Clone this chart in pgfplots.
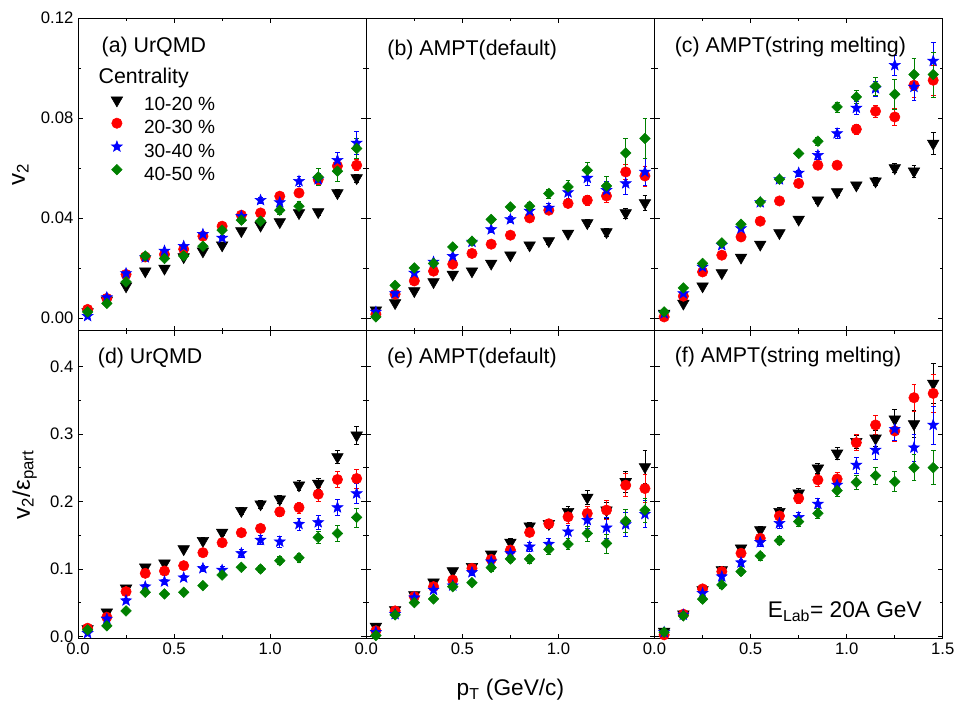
\documentclass[border=0pt]{standalone}
\usepackage{fontspec}
\setmainfont{Liberation Sans}
\usepackage{pgfplots}
\pgfplotsset{compat=1.18}
\usepackage{pgfplotstable}

\definecolor{cgreen}{RGB}{0,128,0}

\pgfdeclareplotmark{fstar}{%
  \pgfpathmoveto{\pgfpointpolar{90}{\pgfplotmarksize}}%
  \pgfpathlineto{\pgfpointpolar{126}{0.42\pgfplotmarksize}}%
  \pgfpathlineto{\pgfpointpolar{162}{\pgfplotmarksize}}%
  \pgfpathlineto{\pgfpointpolar{198}{0.42\pgfplotmarksize}}%
  \pgfpathlineto{\pgfpointpolar{234}{\pgfplotmarksize}}%
  \pgfpathlineto{\pgfpointpolar{270}{0.42\pgfplotmarksize}}%
  \pgfpathlineto{\pgfpointpolar{306}{\pgfplotmarksize}}%
  \pgfpathlineto{\pgfpointpolar{342}{0.42\pgfplotmarksize}}%
  \pgfpathlineto{\pgfpointpolar{18}{\pgfplotmarksize}}%
  \pgfpathlineto{\pgfpointpolar{54}{0.42\pgfplotmarksize}}%
  \pgfpathclose
  \pgfusepathqfillstroke}

% x, black(10-20), red(20-30), blue(30-40), green(40-50) with errors
\pgfplotstableread{
x yk ek yr er yb eb yg eg
0.05 0.0025 0.0003 0.0035 0.0003 0.0008 0.0003 0.0025 0.0003
0.15 0.0072 0.0003 0.0079 0.0003 0.0083 0.0004 0.0059 0.0003
0.25 0.0128 0.0004 0.0175 0.0004 0.0179 0.0005 0.0145 0.0004
0.35 0.0188 0.0004 0.0245 0.0005 0.0243 0.0005 0.0249 0.0005
0.45 0.0199 0.0005 0.0255 0.0005 0.0269 0.0006 0.0239 0.0006
0.55 0.0245 0.0005 0.0276 0.0006 0.0288 0.0007 0.0249 0.0007
0.65 0.0268 0.0006 0.0328 0.0007 0.0336 0.0008 0.0288 0.0008
0.75 0.0292 0.0007 0.0368 0.0008 0.0321 0.0009 0.0352 0.0009
0.85 0.0349 0.0008 0.0412 0.0009 0.0408 0.0010 0.0392 0.0011
0.95 0.0371 0.0009 0.0421 0.0010 0.0472 0.0012 0.0388 0.0013
1.05 0.0385 0.0010 0.0488 0.0012 0.0463 0.0015 0.0432 0.0016
1.15 0.0421 0.0011 0.0501 0.0014 0.0548 0.0020 0.0448 0.0020
1.25 0.0425 0.0012 0.0555 0.0018 0.0555 0.0025 0.0565 0.0035
1.35 0.0501 0.0014 0.0609 0.0020 0.0632 0.0030 0.0588 0.0040
1.45 0.0561 0.0016 0.0612 0.0022 0.0701 0.0045 0.0679 0.0040
}\tabA
\pgfplotstableread{
x yk ek yr er yb eb yg eg
0.05 0.0032 0.0003 0.0016 0.0003 0.0025 0.0004 0.0005 0.0004
0.15 0.0061 0.0004 0.0096 0.0004 0.0099 0.0005 0.0131 0.0005
0.25 0.0109 0.0005 0.0149 0.0005 0.0181 0.0006 0.0201 0.0006
0.35 0.0145 0.0006 0.0188 0.0006 0.0225 0.0007 0.0219 0.0007
0.45 0.0175 0.0007 0.0216 0.0007 0.0248 0.0008 0.0285 0.0008
0.55 0.0188 0.0008 0.0259 0.0008 0.0305 0.0009 0.0308 0.0009
0.65 0.0219 0.0009 0.0296 0.0009 0.0355 0.0010 0.0395 0.0010
0.75 0.0252 0.0010 0.0332 0.0010 0.0395 0.0012 0.0445 0.0012
0.85 0.0292 0.0011 0.0401 0.0011 0.0429 0.0014 0.0448 0.0014
0.95 0.0309 0.0012 0.0432 0.0013 0.0441 0.0017 0.0499 0.0018
1.05 0.0339 0.0013 0.0459 0.0016 0.0503 0.0022 0.0525 0.0025
1.15 0.0381 0.0014 0.0472 0.0020 0.0561 0.0028 0.0592 0.0030
1.25 0.0345 0.0016 0.0489 0.0025 0.0512 0.0035 0.0529 0.0040
1.35 0.0421 0.0020 0.0585 0.0030 0.0539 0.0045 0.0661 0.0060
1.45 0.0461 0.0030 0.0569 0.0040 0.0585 0.0055 0.0719 0.0080
}\tabB
\pgfplotstableread{
x yk ek yr er yb eb yg eg
0.05 0.0019 0.0003 0.0005 0.0003 0.0019 0.0004 0.0025 0.0004
0.15 0.0059 0.0004 0.0088 0.0004 0.0099 0.0005 0.0121 0.0005
0.25 0.0128 0.0005 0.0185 0.0005 0.0205 0.0006 0.0219 0.0006
0.35 0.0181 0.0006 0.0252 0.0006 0.0292 0.0007 0.0301 0.0007
0.45 0.0243 0.0007 0.0325 0.0007 0.0359 0.0008 0.0376 0.0008
0.55 0.0295 0.0008 0.0388 0.0008 0.0463 0.0009 0.0465 0.0009
0.65 0.0341 0.0009 0.0469 0.0009 0.0555 0.0010 0.0556 0.0010
0.75 0.0395 0.0010 0.0539 0.0010 0.0581 0.0012 0.0659 0.0012
0.85 0.0472 0.0011 0.0612 0.0011 0.0652 0.0015 0.0708 0.0015
0.95 0.0505 0.0012 0.0612 0.0013 0.0739 0.0020 0.0845 0.0020
1.05 0.0532 0.0013 0.0756 0.0020 0.0841 0.0025 0.0885 0.0025
1.15 0.0548 0.0015 0.0828 0.0025 0.0919 0.0030 0.0928 0.0035
1.25 0.0601 0.0018 0.0805 0.0035 0.1012 0.0040 0.0896 0.0060
1.35 0.0588 0.0025 0.0932 0.0050 0.0925 0.0055 0.0975 0.0065
1.45 0.0699 0.0045 0.0952 0.0060 0.1029 0.0075 0.0975 0.0090
}\tabC
\pgfplotstableread{
x yk ek yr er yb eb yg eg
0.05 0.0113 0.002 0.0123 0.002 0.0049 0.002 0.0099 0.002
0.15 0.0360 0.002 0.0286 0.002 0.0261 0.002 0.0158 0.002
0.25 0.0714 0.003 0.0665 0.003 0.0532 0.003 0.0379 0.003
0.35 0.1025 0.003 0.0936 0.003 0.0739 0.003 0.0655 0.003
0.45 0.1084 0.004 0.0970 0.004 0.0813 0.004 0.0631 0.003
0.55 0.1296 0.004 0.1049 0.004 0.0872 0.004 0.0655 0.003
0.65 0.1419 0.005 0.1241 0.005 0.1010 0.005 0.0754 0.004
0.75 0.1542 0.005 0.1389 0.005 0.0985 0.005 0.0911 0.004
0.85 0.1862 0.005 0.1537 0.006 0.1232 0.006 0.1025 0.005
0.95 0.1961 0.006 0.1601 0.006 0.1429 0.007 0.1000 0.005
1.05 0.2034 0.006 0.1847 0.007 0.1404 0.008 0.1123 0.006
1.15 0.2241 0.007 0.1911 0.008 0.1665 0.009 0.1167 0.007
1.25 0.2266 0.008 0.2108 0.010 0.1690 0.010 0.1468 0.009
1.35 0.2660 0.010 0.2325 0.012 0.1911 0.012 0.1527 0.012
1.45 0.2980 0.014 0.2340 0.014 0.2118 0.015 0.1764 0.014
}\tabD
\pgfplotstableread{
x yk ek yr er yb eb yg eg
0.05 0.0148 0.003 0.0084 0.003 0.0064 0.003 0.0015 0.003
0.15 0.0394 0.003 0.0379 0.003 0.0330 0.003 0.0320 0.003
0.25 0.0616 0.003 0.0591 0.003 0.0576 0.003 0.0502 0.003
0.35 0.0803 0.004 0.0739 0.004 0.0690 0.004 0.0557 0.004
0.45 0.0970 0.004 0.0837 0.004 0.0754 0.004 0.0739 0.004
0.55 0.1034 0.005 0.1010 0.005 0.0951 0.005 0.0798 0.004
0.65 0.1217 0.005 0.1143 0.005 0.1108 0.005 0.1020 0.005
0.75 0.1394 0.006 0.1281 0.006 0.1232 0.006 0.1148 0.005
0.85 0.1635 0.006 0.1542 0.006 0.1330 0.007 0.1148 0.006
0.95 0.1670 0.007 0.1670 0.007 0.1369 0.008 0.1291 0.007
1.05 0.1847 0.008 0.1773 0.009 0.1552 0.010 0.1369 0.008
1.15 0.2059 0.010 0.1823 0.011 0.1724 0.012 0.1527 0.011
1.25 0.1872 0.012 0.1872 0.014 0.1611 0.015 0.1379 0.014
1.35 0.2291 0.016 0.2241 0.017 0.1660 0.018 0.1709 0.017
1.45 0.2512 0.024 0.2192 0.021 0.1813 0.020 0.1872 0.018
}\tabE
\pgfplotstableread{
x yk ek yr er yb eb yg eg
0.05 0.0074 0.003 0.0025 0.003 0.0064 0.003 0.0064 0.003
0.15 0.0330 0.003 0.0330 0.003 0.0321 0.003 0.0306 0.003
0.25 0.0691 0.004 0.0705 0.004 0.0641 0.004 0.0553 0.004
0.35 0.0987 0.005 0.0962 0.005 0.0888 0.005 0.0765 0.005
0.45 0.1307 0.005 0.1233 0.005 0.1095 0.005 0.0962 0.005
0.55 0.1579 0.006 0.1455 0.006 0.1396 0.006 0.1194 0.006
0.65 0.1850 0.007 0.1786 0.007 0.1677 0.007 0.1421 0.006
0.75 0.2121 0.007 0.2047 0.008 0.1766 0.008 0.1702 0.007
0.85 0.2491 0.008 0.2319 0.009 0.1963 0.009 0.1825 0.008
0.95 0.2713 0.009 0.2333 0.010 0.2245 0.010 0.2161 0.009
1.05 0.2886 0.010 0.2871 0.012 0.2541 0.012 0.2284 0.011
1.15 0.2935 0.012 0.3133 0.014 0.2763 0.014 0.2383 0.013
1.25 0.3217 0.015 0.3044 0.016 0.3069 0.017 0.2294 0.015
1.35 0.3148 0.020 0.3537 0.020 0.2797 0.020 0.2501 0.019
1.45 0.3749 0.030 0.3601 0.028 0.3133 0.028 0.2501 0.025
}\tabF

\tikzset{plab/.style={anchor=west, font=\fontsize{16}{19}\selectfont}}

\pgfplotsset{
  panel/.style={
    scale only axis, width=216.2pt, anchor=south west,
    xmin=0, xmax=1.5, xtick={0,0.5,1}, minor x tick num=1,
    tick align=inside, xtick pos=both, ytick pos=both,
    xticklabel pos=lower, yticklabel pos=left,
    major tick length=3.75pt, minor tick length=2.3pt,
    axis line style={line width=0.7pt},
    every tick/.style={black, line width=0.6pt},
    tick label style={font=\fontsize{12.5}{14}\selectfont},
    /pgf/number format/assume math mode=true,
    xticklabel style={/pgf/number format/.cd, fixed, fixed zerofill, precision=1},
  },
  toprow/.style={height=234.3pt, ymin=-0.005, ymax=0.12,
    ytick={0,0.04,0.08,0.12}, minor y tick num=1, xticklabels={},
    yticklabel style={/pgf/number format/.cd, fixed, fixed zerofill, precision=2}},
  botrow/.style={height=230.9pt, ymin=-0.003, ymax=0.453,
    ytick={0,0.1,0.2,0.3,0.4}, minor y tick num=1,
    yticklabel style={/pgf/number format/.cd, fixed, fixed zerofill, precision=1}},
  limg/.style={legend image code/.code={\draw[##1] plot coordinates {(0.3cm,4.5pt)};}},
  ebars/.style={error bars/.cd, y dir=both, y explicit,
    error bar style={line width=0.5pt, #1},
    error mark options={rotate=90, mark size=1.8pt, line width=0.5pt, #1}},
  sK/.style={only marks, black, mark=triangle*, mark size=5pt,
    mark options={rotate=180, solid, fill=black, draw=black}, limg, ebars=black},
  sR/.style={only marks, red, mark=*, mark size=3.9pt,
    mark options={solid, fill=red, draw=red}, limg, ebars=red},
  sB/.style={only marks, blue, mark=fstar, mark size=4.3pt,
    mark options={solid, fill=blue, draw=blue}, limg, ebars=blue},
  sG/.style={only marks, cgreen, mark=square*, mark size=2.8pt,
    mark options={rotate=45, solid, fill=cgreen, draw=cgreen}, limg, ebars=cgreen},
}

\newcommand{\fourplots}[1]{%
  \addplot[sK] table[x=x, y=yk, y error=ek] {#1};
  \addplot[sR] table[x=x, y=yr, y error=er] {#1};
  \addplot[sB] table[x=x, y=yb, y error=eb] {#1};
  \addplot[sG] table[x=x, y=yg, y error=eg] {#1};
}

\begin{document}
\begin{tikzpicture}
\path[use as bounding box] (0pt,0pt) rectangle (717pt,532.5pt);

% (a)
\begin{axis}[panel, toprow, at={(58.5pt,284.5pt)},
  ylabel={v\textsubscript{2}},
  ylabel style={at={(axis description cs:-0.2,0.5)}, anchor=center, font=\fontsize{18}{21}\selectfont},
  legend cell align=left,
  legend style={at={(0.114,0.749)}, anchor=north west, draw=none, fill=none,
    inner sep=0pt, font=\fontsize{14.3}{16}\selectfont, row sep=2.3pt,
    nodes={inner sep=0pt, text height=10pt, text depth=3pt},
    /tikz/every odd column/.append style={column sep=16pt}}]
  \addplot[sK] table[x=x, y=yk, y error=ek] {\tabA};
  \addlegendentry{10-20 \%}
  \addplot[sR] table[x=x, y=yr, y error=er] {\tabA};
  \addlegendentry{20-30 \%}
  \addplot[sB] table[x=x, y=yb, y error=eb] {\tabA};
  \addlegendentry{30-40 \%}
  \addplot[sG] table[x=x, y=yg, y error=eg] {\tabA};
  \addlegendentry{40-50 \%}
  \node[plab] at (rel axis cs:0.066,0.909) {(a) UrQMD};
  \node[plab] at (rel axis cs:0.0555,0.809) {Centrality};
\end{axis}

% (b)
\begin{axis}[panel, toprow, at={(274.7pt,284.5pt)}, yticklabels={}]
  \fourplots{\tabB}
  \node[plab] at (rel axis cs:0.057,0.898) {(b) AMPT(default)};
\end{axis}

% (c)
\begin{axis}[panel, toprow, at={(490.9pt,284.5pt)}, yticklabels={}]
  \fourplots{\tabC}
  \node[plab] at (rel axis cs:0.054,0.909) {(c) AMPT(string melting)};
\end{axis}

% (d)
\begin{axis}[panel, botrow, at={(58.5pt,53.6pt)},
  ylabel={v\textsubscript{2}/ε\textsubscript{part}},
  ylabel style={at={(axis description cs:-0.185,0.5)}, anchor=center, font=\fontsize{18}{21}\selectfont}]
  \fourplots{\tabD}
  \node[plab] at (rel axis cs:0.053,0.911) {(d) UrQMD};
\end{axis}

% (e)
\begin{axis}[panel, botrow, at={(274.7pt,53.6pt)}, yticklabels={},
  xlabel={p\textsubscript{T} (GeV/c)},
  xlabel style={at={(axis description cs:0.5,-0.167)}, anchor=center, font=\fontsize{17}{20}\selectfont}]
  \fourplots{\tabE}
  \node[plab] at (rel axis cs:0.056,0.912) {(e) AMPT(default)};
\end{axis}

% (f)
\begin{axis}[panel, botrow, at={(490.9pt,53.6pt)}, yticklabels={}, xtick={0,0.5,1,1.5}]
  \fourplots{\tabF}
  \node[plab] at (rel axis cs:0.054,0.915) {(f) AMPT(string melting)};
  \node[anchor=base east, font=\fontsize{17}{20}\selectfont] at (rel axis cs:0.943,0.067) {E\textsubscript{Lab}= 20A GeV};
\end{axis}
\end{tikzpicture}
\end{document}
